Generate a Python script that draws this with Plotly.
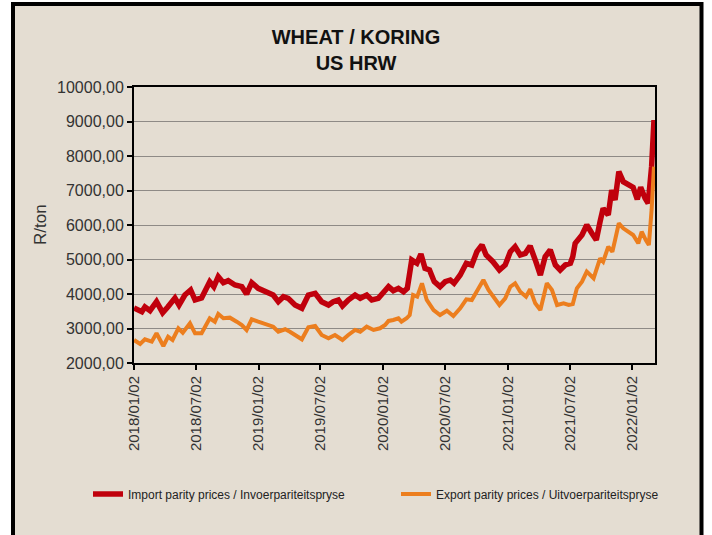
import plotly.graph_objects as go

# ---- data ----
import_dates = [
    "2018-01-02", "2018-01-25", "2018-02-03", "2018-02-18", "2018-03-09", "2018-03-27",
    "2018-04-11", "2018-05-02", "2018-05-14", "2018-05-31", "2018-06-17", "2018-06-30",
    "2018-07-19", "2018-08-12", "2018-08-24", "2018-09-06", "2018-09-21", "2018-10-05",
    "2018-10-25", "2018-11-14", "2018-11-28", "2018-12-13", "2019-01-01", "2019-01-26",
    "2019-02-14", "2019-03-01", "2019-03-16", "2019-03-30", "2019-04-19", "2019-05-09",
    "2019-05-28", "2019-06-17", "2019-07-06", "2019-07-26", "2019-08-09", "2019-08-24",
    "2019-09-05", "2019-09-22", "2019-10-12", "2019-10-27", "2019-11-15", "2019-11-30",
    "2019-12-19", "2020-01-08", "2020-01-18", "2020-02-01", "2020-02-16", "2020-03-02",
    "2020-03-13", "2020-03-26", "2020-04-10", "2020-04-22", "2020-05-04", "2020-05-17",
    "2020-05-31", "2020-06-17", "2020-07-02", "2020-07-17", "2020-07-28", "2020-08-15",
    "2020-09-02", "2020-09-18", "2020-10-03", "2020-10-18", "2020-10-30", "2020-11-19",
    "2020-12-08", "2020-12-25", "2021-01-09", "2021-01-23", "2021-02-07", "2021-02-22",
    "2021-03-08", "2021-03-23", "2021-04-07", "2021-04-21", "2021-05-06", "2021-05-21",
    "2021-06-04", "2021-06-19", "2021-07-04", "2021-07-11", "2021-07-18", "2021-08-07",
    "2021-08-21", "2021-09-05", "2021-09-18", "2021-09-29", "2021-10-08", "2021-10-23",
    "2021-11-02", "2021-11-12", "2021-11-23", "2021-12-06", "2021-12-21", "2022-01-04",
    "2022-01-16", "2022-01-26", "2022-02-08", "2022-02-17", "2022-02-27", "2022-03-06",
]
import_prices = [
    3594, 3487, 3623, 3516, 3777, 3458,
    3623, 3884, 3681, 3971, 4116, 3826,
    3884, 4357, 4212, 4502, 4328, 4386,
    4261, 4212, 4000, 4328, 4165, 4038,
    3971, 3777, 3922, 3875, 3681, 3585,
    3971, 4020, 3777, 3681, 3777, 3826,
    3652, 3826, 3971, 3875, 3971, 3826,
    3875, 4100, 4212, 4096, 4165, 4067,
    4165, 4986, 4890, 5159, 4745, 4696,
    4357, 4212, 4357, 4406, 4310, 4551,
    4890, 4841, 5226, 5420, 5130, 4936,
    4696, 4841, 5226, 5371, 5130, 5179,
    5391, 4986, 4551, 5081, 5275, 4841,
    4696, 4841, 4890, 5081, 5469, 5710,
    6000, 5759, 5565, 6096, 6484, 6290,
    7014, 6725, 7545, 7255, 7159, 7091,
    6745, 7091, 6774, 6629, 7690, 9043,
]

export_dates = [
    "2018-01-02", "2018-01-20", "2018-02-03", "2018-02-23", "2018-03-09", "2018-03-29",
    "2018-04-12", "2018-04-25", "2018-05-12", "2018-05-25", "2018-06-15", "2018-06-30",
    "2018-07-19", "2018-08-12", "2018-08-27", "2018-09-06", "2018-09-21", "2018-10-10",
    "2018-10-30", "2018-11-14", "2018-11-28", "2018-12-13", "2019-01-01", "2019-01-26",
    "2019-02-14", "2019-03-01", "2019-03-21", "2019-04-04", "2019-04-24", "2019-05-09",
    "2019-05-28", "2019-06-17", "2019-07-06", "2019-07-26", "2019-08-14", "2019-09-05",
    "2019-09-22", "2019-10-12", "2019-10-27", "2019-11-15", "2019-12-05", "2019-12-24",
    "2020-01-08", "2020-01-18", "2020-02-01", "2020-02-16", "2020-02-25", "2020-03-11",
    "2020-03-20", "2020-03-30", "2020-04-11", "2020-04-25", "2020-05-09", "2020-05-29",
    "2020-06-17", "2020-07-07", "2020-07-26", "2020-08-15", "2020-09-02", "2020-09-18",
    "2020-10-08", "2020-10-22", "2020-11-06", "2020-11-20", "2020-12-08", "2020-12-25",
    "2021-01-09", "2021-01-23", "2021-02-07", "2021-02-24", "2021-03-08", "2021-03-23",
    "2021-04-07", "2021-04-26", "2021-05-11", "2021-05-26", "2021-06-14", "2021-06-29",
    "2021-07-11", "2021-07-23", "2021-08-07", "2021-08-21", "2021-09-10", "2021-09-29",
    "2021-10-08", "2021-10-23", "2021-11-04", "2021-11-12", "2021-11-23", "2021-12-06",
    "2021-12-21", "2022-01-04", "2022-01-19", "2022-01-29", "2022-02-10", "2022-02-19",
    "2022-02-27", "2022-03-06",
]
export_prices = [
    2667, 2551, 2687, 2618, 2861, 2493,
    2763, 2667, 3006, 2880, 3151, 2861,
    2861, 3296, 3198, 3420, 3296, 3314,
    3198, 3101, 2957, 3267, 3198, 3101,
    3052, 2907, 2977, 2907, 2762, 2687,
    3035, 3072, 2812, 2716, 2812, 2667,
    2812, 2957, 2907, 3052, 2957, 3006,
    3101, 3220, 3246, 3296, 3198, 3296,
    3391, 3971, 3922, 4310, 3826, 3536,
    3391, 3516, 3362, 3585, 3846, 3826,
    4165, 4406, 4116, 3922, 3681, 3875,
    4212, 4310, 4067, 3922, 4136, 3730,
    3536, 4310, 4116, 3681, 3730, 3681,
    3710, 4165, 4357, 4647, 4455, 5035,
    4936, 5371, 5226, 5565, 6049, 5904,
    5806, 5710, 5469, 5806, 5565, 5420,
    6435, 7690,
]

tick_dates = ["2018-01-02", "2018-07-02", "2019-01-02", "2019-07-02", "2020-01-02",
              "2020-07-02", "2021-01-02", "2021-07-02", "2022-01-02"]
tick_labels = [d.replace("-", "/") for d in tick_dates]
y_ticks = [2000, 3000, 4000, 5000, 6000, 7000, 8000, 9000, 10000]

import_name = "Import parity prices / Invoerpariteitspryse"
export_name = "Export parity prices / Uitvoerpariteitspryse"

FONT = "Liberation Sans, Arial, sans-serif"
BG = "#E4DDD2"
RED = "#C0000C"
ORANGE = "#EC7E1E"

fig = go.Figure()
fig.add_trace(go.Scatter(x=import_dates, y=import_prices, mode="lines", name=import_name,
                         line=dict(color=RED, width=5.5)))
fig.add_trace(go.Scatter(x=export_dates, y=export_prices, mode="lines", name=export_name,
                         line=dict(color=ORANGE, width=4)))

L, R, T, B = 134, 57, 87, 172
W, H = 712, 535
pw, ph = W - L - R, H - T - B

def px_x(px):
    return (px - L) / pw

def px_y(py):
    return (H - B - py) / ph

# card with black frame
fig.add_shape(type="rect", xref="paper", yref="paper",
              x0=px_x(13), x1=px_x(701.5), y0=px_y(560), y1=px_y(4),
              fillcolor=BG, line=dict(color="black", width=4), layer="below")

fig.update_layout(
    width=W, height=H,
    margin=dict(l=L, r=R, t=T, b=B),
    paper_bgcolor="white",
    plot_bgcolor="rgba(0,0,0,0)",
    separators=",.",
    font=dict(family=FONT, color="#333333"),
    title=dict(text="<b>WHEAT / KORING<br>US HRW</b>", x=0.5, xref="container", xanchor="center",
               y=1 - 44 / H, yref="container", yanchor="middle",
               font=dict(family=FONT, size=20, color="#111111")),
    showlegend=True,
    legend=dict(orientation="h", x=px_x(88), xanchor="left", y=px_y(494), yanchor="middle",
                font=dict(family=FONT, size=12, color="#222222"),
                bgcolor="rgba(0,0,0,0)", entrywidth=263, entrywidthmode="pixels"),
    xaxis=dict(
        type="date",
        range=["2018-01-02", "2022-03-09"],
        tickvals=tick_dates, ticktext=tick_labels, tickangle=-90,
        ticks="outside", ticklen=5, tickwidth=1.5, tickcolor="black",
        showline=True, linecolor="black", linewidth=2, mirror=True,
        showgrid=False, zeroline=False,
        tickfont=dict(family=FONT, size=15, color="#333333"),
    ),
    yaxis=dict(
        range=[2000, 10000],
        tickvals=y_ticks, tickformat=".2f",
        ticks="outside", ticklen=5, tickwidth=1.5, tickcolor="black",
        showline=True, linecolor="black", linewidth=2, mirror=True,
        showgrid=True, gridcolor="#8E8A86", gridwidth=1.2, zeroline=False,
        tickfont=dict(family=FONT, size=16, color="#333333"),
    ),
    annotations=[dict(text="R/ton", xref="paper", yref="paper", x=px_x(40), y=px_y(225),
                      textangle=-90, showarrow=False, xanchor="center", yanchor="middle",
                      font=dict(family=FONT, size=17, color="#333333"))],
)

fig.write_html("out.html",
               config={"displayModeBar": False},
               post_script="document.body.style.margin='0';document.body.style.padding='0';")
